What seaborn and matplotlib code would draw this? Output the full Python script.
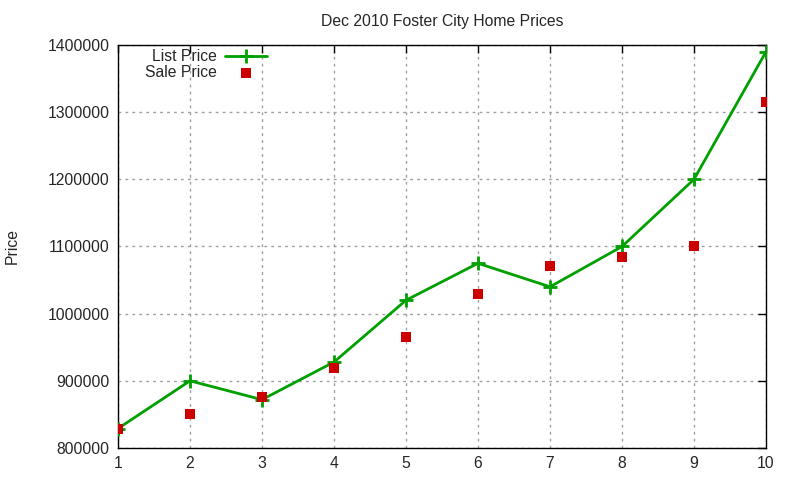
import matplotlib
matplotlib.use("Agg")
import matplotlib.pyplot as plt
import seaborn as sns
import pandas as pd

months = [1, 2, 3, 4, 5, 6, 7, 8, 9, 10]
list_price = [829000, 900000, 872000, 928000, 1020000, 1075000, 1040000, 1100000, 1200000, 1390000]
sale_price = [829000, 850000, 876000, 919000, 965000, 1030000, 1071000, 1084000, 1100000, 1315000]
y_ticks = [800000, 900000, 1000000, 1100000, 1200000, 1300000, 1400000]

df = pd.DataFrame({"x": months, "list": list_price, "sale": sale_price})

sns.set_theme(style="white")
plt.rcParams["font.family"] = ["Liberation Sans", "DejaVu Sans"]
fs = 11.3

fig = plt.figure(figsize=(8, 4.8), dpi=100)
ax = fig.add_axes([118/800, 1 - 448/480, (766-118)/800, (448-45)/480])

sns.lineplot(data=df, x="x", y="list", ax=ax, color="#00a000", linewidth=2,
             marker="+", markersize=10, markeredgewidth=2, markeredgecolor="#00a000",
             label="List Price", zorder=3)
sns.scatterplot(data=df, x="x", y="sale", ax=ax, color="#cc0000", marker="s",
                s=55, linewidth=0, label="Sale Price", zorder=4)

ax.set_xlim(1, 10)
ax.set_ylim(800000, 1400000)
ax.set_xticks(months)
ax.set_xticklabels([str(m) for m in months], fontsize=fs)
ax.set_yticks(y_ticks)
ax.set_yticklabels([str(v) for v in y_ticks], fontsize=fs)
ax.tick_params(direction="in", top=True, right=True, length=6, width=1, color="black", pad=6)
ax.grid(True, linestyle=(0, (2, 3)), color="#a0a0a0", linewidth=1)
for s in ax.spines.values():
    s.set_color("black")
    s.set_linewidth(1)
ax.set_xlabel("")
ax.set_ylabel("Price", fontsize=fs, labelpad=20)
ax.set_title("Dec 2010 Foster City Home Prices", fontsize=fs, pad=14)

leg = ax.legend(loc="upper right", bbox_to_anchor=((267 - 118) / 648, 0.99), frameon=False,
                markerfirst=False, fontsize=fs, handlelength=2.7, handletextpad=0.5,
                labelspacing=0.05, borderaxespad=0.0, borderpad=0.0)

fig.savefig("out.png", dpi=100)
